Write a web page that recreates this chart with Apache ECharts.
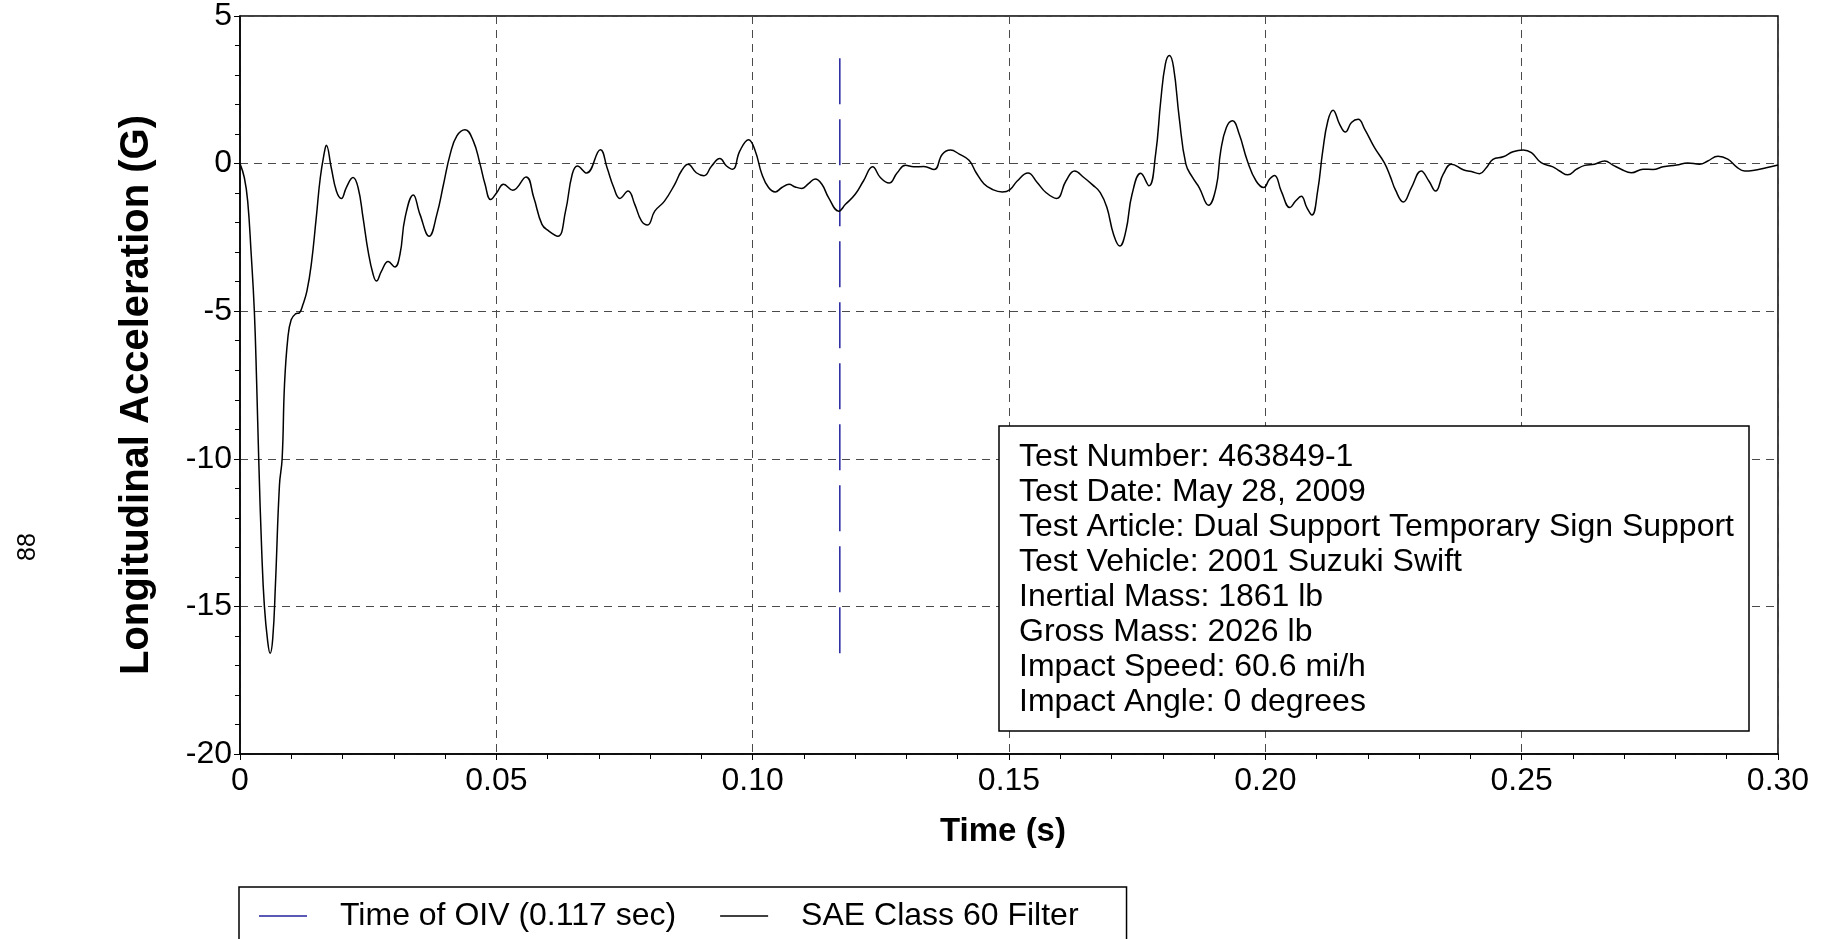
<!DOCTYPE html>
<html>
<head>
<meta charset="utf-8">
<title>Longitudinal Acceleration</title>
<script src="https://cdn.jsdelivr.net/npm/echarts@6/dist/echarts.min.js"></script>
<style>
  html, body { margin: 0; padding: 0; background: #fff; }
  #chart { width: 1825px; height: 939px; }
</style>
</head>
<body>
<div id="chart"></div>
<script>
// Test 463849-1, vehicle longitudinal acceleration (SAE Class 60 filtered)
const timeMs = [
  0, 0.85, 1.5, 2.15, 2.8, 3.26, 3.65, 4.24, 4.76, 5.41, 5.87, 6.39, 6.91, 7.7, 8.22, 8.68, 9.33, 9.98,
  10.83, 11.61, 12.26, 13.05, 13.9, 14.87, 15.66, 16.5, 16.83, 17.8, 18.8, 19.77, 20.74, 22.05, 23.03,
  24.0, 24.98, 25.96, 26.6, 27.6, 28.9, 30.2, 31.2, 32.2, 33.8, 35.1, 36.9, 38.4, 39.7, 41.0, 42.3,
  43.9, 45.5, 46.8, 47.8, 48.9, 50.1, 51.4, 53.2, 55.8, 57.3, 58.9, 60.2, 62.0, 63.5, 64.8, 65.8, 67.6,
  70.3, 71.6, 72.9, 74.1, 75.7, 77.0, 78.3, 79.5, 80.9, 82.8, 84.8, 86.1, 87.4, 89.0, 90.5, 92.0, 93.6,
  94.9, 96.1, 97.5, 99.2, 100.5, 101.8, 103.1, 104.4, 105.7, 107.1, 108.3, 109.6, 110.9, 112.2, 113.5,
  114.8, 116.8, 118.1, 120.0, 121.6, 123.4, 124.9, 126.6, 128.2, 129.8, 131.4, 133.4, 135.4, 137.0,
  138.6, 140.3, 142.2, 143.6, 145.1, 146.7, 148.7, 150.2, 151.6, 153.7, 155.5, 157.2, 159.3, 161.1,
  162.8, 164.6, 166.3, 167.8, 169.1, 170.4, 171.6, 172.8, 174.0, 175.7, 177.3, 178.6, 179.6, 180.5,
  181.3, 182.1, 183.2, 184.5, 185.8, 187.1, 188.9, 190.4, 191.3, 192.4, 193.6, 194.9, 196.5, 198.2,
  199.7, 200.8, 201.8, 203.1, 204.8, 205.9, 207.0, 208.1, 209.1, 210.2, 211.2, 212.2, 213.2, 214.5,
  215.6, 216.8, 218.1, 219.4, 221.3, 223.2, 224.4, 225.4, 226.9, 228.5, 230.4, 231.9, 233.2, 234.7,
  236.3, 238.6, 240.2, 241.8, 243.1, 244.4, 246.4, 248.3, 250.3, 251.9, 253.8, 256.1, 257.4, 259.0,
  260.7, 262.3, 264.2, 266.2, 267.8, 269.4, 271.4, 273.7, 275.6, 277.6, 280.2, 282.4, 284.7, 286.3,
  288.3, 290.2, 291.9, 293.5, 295.1, 297.7, 300
];
const accelG = [
  0, -0.48, -1.27, -2.97, -5.0, -7.49, -10.0, -13.14, -15.0, -16.2, -16.59, -16.08, -14.27, -10.88, -10.0, -7.49, -5.91, -5.29,
  -5.09, -5.05, -4.78, -4.32, -3.42, -1.84, -0.48, 0.42, 0.62, -0.14, -0.93, -1.18, -0.81, -0.47, -0.81,
  -1.83, -2.96, -3.75, -3.98, -3.64, -3.32, -3.5, -3.08, -1.83, -1.06, -1.72, -2.46, -1.72, -0.70, 0.32, 0.94,
  1.15, 0.77, 0.0, -0.70, -1.22, -0.98, -0.70, -0.90, -0.45, -1.15, -2.06, -2.28, -2.46, -1.61, -0.36, -0.08, -0.32,
  0.47, -0.14, -0.81, -1.18, -0.93, -1.38, -1.94, -2.08, -1.61, -1.27, -0.70, -0.25, -0.02, -0.31, -0.41, -0.08, 0.17,
  -0.08, -0.19, 0.43, 0.81, 0.43, -0.36, -0.81, -0.96, -0.81, -0.70, -0.79, -0.84, -0.68, -0.52, -0.70,
  -1.15, -1.61, -1.38, -1.04, -0.59, -0.11, -0.47, -0.66, -0.31, -0.06, -0.11, -0.10, -0.20, 0.32,
  0.46, 0.32, 0.11, -0.31, -0.68, -0.87, -0.96, -0.88, -0.59, -0.32, -0.64, -0.98, -1.18, -0.59,
  -0.25, -0.47, -0.72, -0.98, -1.49, -2.40, -2.79, -2.28, -1.04, -0.33, -0.75, 0.32, 2.13, 3.37,
  3.66, 3.26, 1.56, -0.02, -0.47, -0.81, -1.41, -0.81, 0.43, 1.22, 1.45, 1.0, 0.09, -0.59,
  -0.81, -0.53, -0.40, -0.93, -1.49, -1.27, -1.11, -1.49, -1.74, -0.93, 0.43, 1.45, 1.81, 1.33,
  1.07, 1.39, 1.50, 1.16, 0.54, 0.03, -0.45, -0.90, -1.30, -0.81, -0.25, -0.59, -0.93, -0.36,
  -0.02, -0.21, -0.27, -0.34, -0.14, 0.14, 0.23, 0.40, 0.46, 0.37, 0.03, -0.11, -0.25, -0.38,
  -0.19, -0.06, -0.02, 0.09, -0.05, -0.19, -0.31, -0.19, -0.20, -0.11, -0.05, 0.02, -0.02, 0.09,
  0.25, 0.15, -0.11, -0.25, -0.23, -0.14, -0.05
];
const oivTime = 0.117;   // s
const xTicks = [0, 0.05, 0.10, 0.15, 0.20, 0.25, 0.30];
const yTicks = [-20, -15, -10, -5, 0, 5];
const seriesNames = ['Time of OIV (0.117 sec)', 'SAE Class 60 Filter'];
const infoLines = [
  'Test Number: 463849-1',
  'Test Date: May 28, 2009',
  'Test Article: Dual Support Temporary Sign Support',
  'Test Vehicle: 2001 Suzuki Swift',
  'Inertial Mass: 1861 lb',
  'Gross Mass: 2026 lb',
  'Impact Speed: 60.6 mi/h',
  'Impact Angle: 0 degrees'
];

const FONT = "'Liberation Sans', Arial, Helvetica, sans-serif";
const OIV_COLOR = '#23239e';
const accelData = timeMs.map((t, i) => [t / 1000, accelG[i]]);
const oivData = [[oivTime, Math.min(...accelG)], [oivTime, Math.max(...accelG)]];

const chart = echarts.init(document.getElementById('chart'), null, { renderer: 'canvas' });

const gridLine = { show: true, lineStyle: { color: '#4a4a4a', width: 1, type: [8, 6] } };

chart.setOption({
  animation: false,
  backgroundColor: '#ffffff',
  grid: {
    left: 240, right: 47, top: 16, bottom: 185,
    show: true, borderColor: '#000', borderWidth: 1.5, backgroundColor: 'transparent'
  },
  xAxis: {
    type: 'value',
    min: xTicks[0], max: xTicks[xTicks.length - 1], interval: 0.05,
    axisLine: { show: true, onZero: false, lineStyle: { color: '#000', width: 1.5 } },
    axisTick: { show: true, length: 6, lineStyle: { color: '#000' } },
    minorTick: { show: true, splitNumber: 5, length: 5, lineStyle: { color: '#000' } },
    splitLine: gridLine,
    axisLabel: {
      margin: 11, color: '#000', fontFamily: FONT, fontSize: 32,
      formatter: v => (v === 0 ? '0' : v.toFixed(2))
    }
  },
  yAxis: {
    type: 'value',
    min: yTicks[0], max: yTicks[yTicks.length - 1], interval: 5,
    axisLine: { show: true, onZero: false, lineStyle: { color: '#000', width: 1.5 } },
    axisTick: { show: true, length: 6, lineStyle: { color: '#000' } },
    minorTick: { show: true, splitNumber: 5, length: 5, lineStyle: { color: '#000' } },
    splitLine: gridLine,
    axisLabel: { margin: 8, color: '#000', fontFamily: FONT, fontSize: 32 }
  },
  legend: {
    left: 239, top: 887,
    orient: 'horizontal',
    padding: [13, 48, 60, 20],
    itemGap: 44,
    itemWidth: 48, itemHeight: 1.5,
    borderColor: '#000', borderWidth: 1.5,
    backgroundColor: '#fff',
    textStyle: { color: '#000', fontFamily: FONT, fontSize: 32, padding: [0, 0, 0, 28] },
    data: [
      { name: seriesNames[0], icon: 'rect', itemStyle: { color: OIV_COLOR } },
      { name: seriesNames[1], icon: 'rect', itemStyle: { color: '#000' } }
    ]
  },
  series: [
    {
      name: seriesNames[0],
      type: 'line',
      data: oivData,
      symbol: 'none',
      color: OIV_COLOR,
      lineStyle: { color: OIV_COLOR, width: 1.5, type: [46, 15] },
      z: 3
    },
    {
      name: seriesNames[1],
      type: 'line',
      data: accelData,
      symbol: 'none',
      smooth: 0.45,
      color: '#000',
      lineStyle: { color: '#000', width: 1.5 },
      z: 4
    }
  ],
  graphic: [
    {
      type: 'text', x: 137, y: 395, rotation: Math.PI / 2, z: 50,
      style: { text: 'Longitudinal Acceleration (G)', font: `bold 40px ${FONT}`, fill: '#000', align: 'center', verticalAlign: 'middle' }
    },
    {
      type: 'text', x: 1003, y: 832, z: 50,
      style: { text: 'Time (s)', font: `bold 33px ${FONT}`, fill: '#000', align: 'center', verticalAlign: 'middle' }
    },
    {
      type: 'text', x: 28, y: 547, rotation: Math.PI / 2, z: 50,
      style: { text: '88', font: `25px ${FONT}`, fill: '#000', align: 'center', verticalAlign: 'middle' }
    },
    {
      type: 'group', z: 100,
      children: [
        {
          type: 'rect', z: 100,
          shape: { x: 999, y: 426, width: 750, height: 305 },
          style: { fill: '#fff', stroke: '#000', lineWidth: 1.5 }
        },
        {
          type: 'text', x: 1019, y: 440, z: 101,
          style: { text: infoLines.join('\n'), font: `32px ${FONT}`, lineHeight: 34.9, fill: '#000', align: 'left', verticalAlign: 'top' }
        }
      ]
    }
  ]
});
</script>
</body>
</html>
